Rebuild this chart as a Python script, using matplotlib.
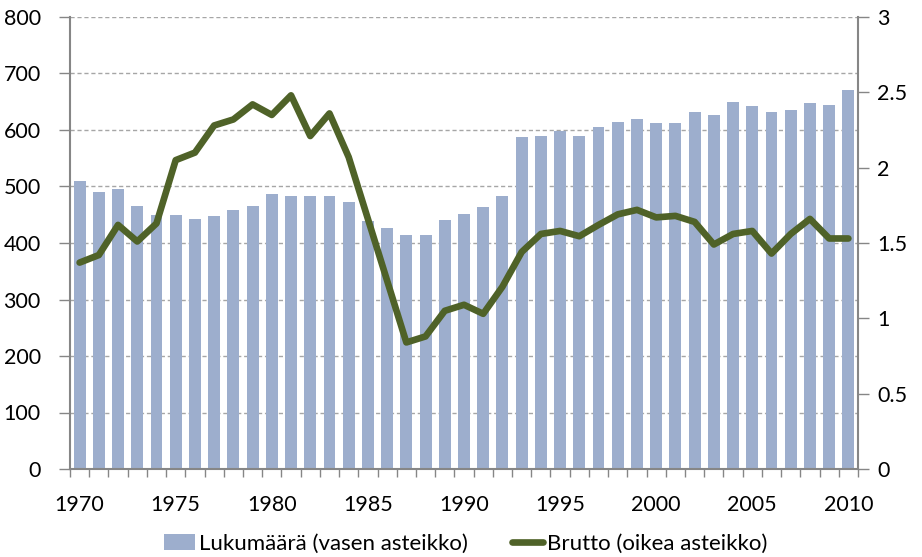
import matplotlib.pyplot as plt
import numpy as np

plt.rcParams['font.family'] = ['Lato', 'DejaVu Sans']

years = list(range(1970, 2011))
lukumaara = [509, 490, 496, 466, 449, 450, 443, 447, 459, 466,
             487, 483, 483, 484, 472, 439, 427, 415, 415, 441,
             451, 464, 483, 587, 589, 598, 589, 606, 615, 620,
             613, 612, 631, 627, 649, 642, 632, 635, 648, 645,
             671]
brutto = [1.37, 1.42, 1.62, 1.51, 1.63, 2.05, 2.10, 2.28, 2.32, 2.42,
          2.35, 2.48, 2.21, 2.36, 2.07, 1.66, 1.25, 0.84, 0.88, 1.05,
          1.09, 1.03, 1.21, 1.44, 1.56, 1.58, 1.545, 1.62, 1.69, 1.72,
          1.67, 1.68, 1.64, 1.49, 1.56, 1.58, 1.43, 1.56, 1.66, 1.53,
          1.53]

bar_color = '#9DAECD'
line_color = '#4F6228'
axis_color = '#868686'

fig = plt.figure(figsize=(9.22, 5.57), dpi=100)
ax = fig.add_axes([70/922, 1-469/557, 788/922, 452/557])
x = np.arange(len(years))

bars = ax.bar(x, lukumaara, width=0.62, color=bar_color, zorder=2,
              label='Lukumäärä (vasen asteikko)')
ax.set_xlim(-0.5, len(years) - 0.5)
ax.set_ylim(0, 800)
ax.set_yticks(range(0, 801, 100))
ax.yaxis.grid(True, linestyle=(0, (3, 2)), color='#A6A6A6', linewidth=1, zorder=0)
ax.set_axisbelow(True)

ax.set_xticks(x[::5])
ax.set_xticklabels([str(y) for y in years[::5]])
ax.set_xticks(np.arange(-0.5, len(years)), minor=True)
ax.tick_params(axis='x', which='major', length=0, pad=19, labelsize=15.5)
ax.tick_params(axis='x', which='minor', length=6, width=1, color=axis_color)
ax.tick_params(axis='y', length=8, width=1, color=axis_color, pad=13, labelsize=15.5)

for s in ['top', 'right']:
    ax.spines[s].set_visible(False)
for s in ['left', 'bottom']:
    ax.spines[s].set_color(axis_color)
    ax.spines[s].set_linewidth(1.5)

ax2 = ax.twinx()
ln, = ax2.plot(x, brutto, color=line_color, linewidth=4.8, zorder=3,
               solid_capstyle='round', solid_joinstyle='round',
               label='Brutto (oikea asteikko)')
ax2.set_ylim(0, 3)
ax2.set_yticks([0, 0.5, 1, 1.5, 2, 2.5, 3])
ax2.set_yticklabels(['0', '0.5', '1', '1.5', '2', '2.5', '3'])
ax2.tick_params(axis='y', length=8, width=1, color=axis_color, pad=6, labelsize=15.5)
for s in ['top', 'left', 'bottom']:
    ax2.spines[s].set_visible(False)
ax2.spines['right'].set_color(axis_color)
ax2.spines['right'].set_linewidth(1.5)

fig.legend(handles=[bars, ln], loc='center', bbox_to_anchor=(0.505, 0.024),
           ncol=2, frameon=False, fontsize=16, handlelength=1.4,
           handletextpad=0.15, columnspacing=2.0, borderpad=0)

fig.savefig('out.png', dpi=100)
